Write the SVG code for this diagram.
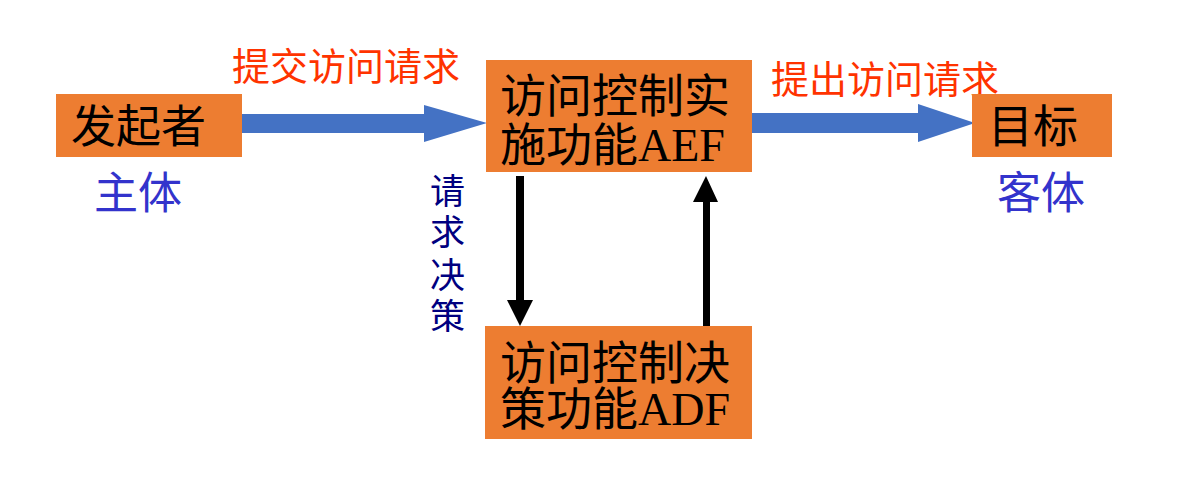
<svg xmlns="http://www.w3.org/2000/svg" width="1204" height="480" viewBox="0 0 1204 480">
<style>
.box{fill:#ED7D31}
.t{font-family:"Liberation Serif","Noto Sans CJK SC",serif;font-size:46px;fill:#000}
.s{font-size:45px}
.red{font-family:"Liberation Sans","Noto Sans CJK SC",sans-serif;font-size:38px;fill:#FF3300}
.blue{font-family:"Liberation Sans","Noto Sans CJK SC",sans-serif;font-size:44px;fill:#3333CC}
.navy{font-family:"Liberation Sans","Noto Sans CJK SC",sans-serif;font-size:35px;fill:#000080}
.big{fill:#4472C4}
</style>
<rect width="1204" height="480" fill="#fff"/>
<g id="connectors">
  <polygon class="big" points="242,114 424,114 424,105 487,123 424,142 424,133 242,133"/>
  <polygon class="big" points="752,113 918,113 918,104 975,123 918,142 918,133 752,133"/>
  <polygon fill="#000" points="516,176 524,176 524,300 533,300 520,326 507,300 516,300"/>
  <polygon fill="#000" points="703,326 710,326 710,202 718,202 706,176 693,202 703,202"/>
  <text class="red" x="232" y="80">提交访问请求</text>
  <text class="red" x="771" y="93">提出访问请求</text>
  <text class="navy" x="430" y="204">请</text>
  <text class="navy" x="430" y="245">求</text>
  <text class="navy" x="430" y="288">决</text>
  <text class="navy" x="430" y="329">策</text>
</g>
<g id="initiator">
  <rect class="box" x="56" y="94" width="186" height="63"/>
  <text class="t s" x="71" y="143">发起者</text>
  <text class="blue" x="94" y="209">主体</text>
</g>
<g id="aef">
  <rect class="box" x="486" y="60" width="266" height="112"/>
  <text class="t" x="500" y="112">访问控制实</text>
  <text class="t" x="500" y="161">施功能AEF</text>
</g>
<g id="adf">
  <rect class="box" x="485" y="326" width="267" height="113"/>
  <text class="t" x="500" y="379">访问控制决</text>
  <text class="t" x="500" y="425">策功能ADF</text>
</g>
<g id="target">
  <rect class="box" x="972" y="94" width="140" height="63"/>
  <text class="t s" x="988" y="143">目标</text>
  <text class="blue" x="997" y="209">客体</text>
</g>
</svg>
